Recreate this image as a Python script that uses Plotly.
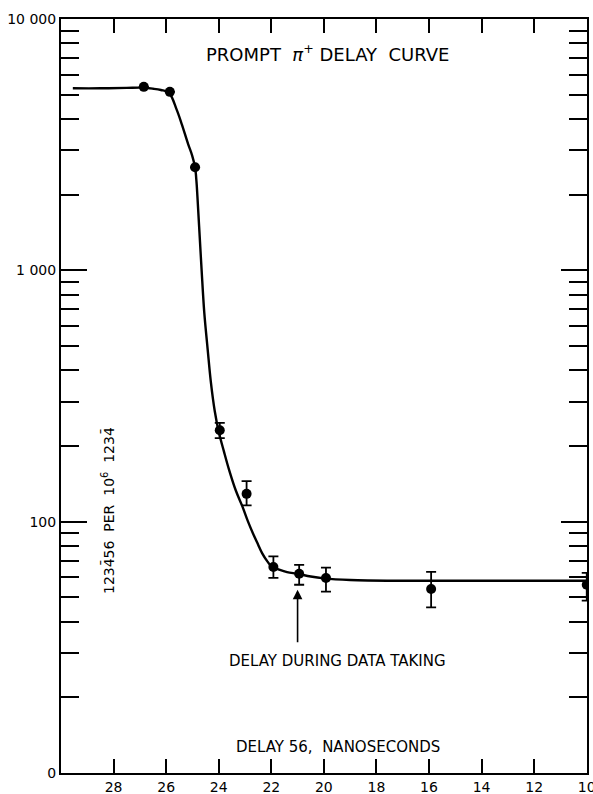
import math
import plotly.graph_objects as go

# ---- data ----
delay_ns = [26.85, 25.86, 24.90, 23.96, 22.94, 21.92, 20.94, 19.92, 15.92, 10.0]
counts = [5370, 5130, 2570, 231, 129, 66, 62.1, 59.7, 54.0, 56.1]
err_upper = [None, None, None, 247, 145, 72.8, 67.3, 65.6, 63.1, 62.5]
err_lower = [None, None, None, 215, 116, 59.7, 56.1, 52.7, 45.6, 48.5]

curve_x = [29.55, 28.5, 27.5, 26.9, 26.5, 26.2, 25.9, 25.6, 25.4, 25.17, 25.01,
           24.9, 24.846, 24.81, 24.743, 24.65, 24.55, 24.42, 24.3, 24.15, 24.0,
           23.8, 23.6, 23.35, 23.1, 22.9, 22.7, 22.5, 22.35, 22.15, 22.0, 21.7,
           21.4, 21.0, 20.5, 20.0, 19.0, 17.0, 14.0, 10.0]
curve_y = [5300, 5300, 5320, 5330, 5280, 5220, 5100, 4360, 3800, 3193, 2861,
           2570, 2254, 1965, 1479, 1000, 680, 484, 360, 275, 228,
           190, 160, 133, 115, 101, 90, 81, 75, 69.5, 66.5, 64.5,
           63, 62, 60.5, 59.5, 58.6, 58.2, 58.2, 58.2]

x_ticks = [28, 26, 24, 22, 20, 18, 16, 14, 12, 10]
y_ticks = [10, 100, 1000, 10000]
y_ticktext = ["0", "100", "1 000", "10 000"]

err_plus = [0 if u is None else u - c for u, c in zip(err_upper, counts)]
err_minus = [0 if l is None else c - l for l, c in zip(err_lower, counts)]

FONT = "DejaVu Sans"
minor_vals = [m * 10 ** d for d in range(1, 4) for m in range(2, 10)]

fig = go.Figure()
fig.add_trace(go.Scatter(
    x=curve_x, y=curve_y, mode="lines",
    line=dict(color="black", width=2.4, shape="spline", smoothing=1.0),
    hoverinfo="skip", showlegend=False))
fig.add_trace(go.Scatter(
    x=delay_ns, y=counts, mode="markers",
    marker=dict(color="black", size=10),
    error_y=dict(type="data", symmetric=False, array=err_plus, arrayminus=err_minus,
                 color="black", thickness=1.8, width=5),
    showlegend=False))

fig.update_layout(
    width=593, height=794,
    margin=dict(l=61, r=6, t=19, b=21, autoexpand=False),
    paper_bgcolor="white", plot_bgcolor="white",
    font=dict(family=FONT, color="black", size=14),
)
fig.update_xaxes(
    range=[30, 9.99], showgrid=False, zeroline=False, automargin=False,
    showline=True, linecolor="black", linewidth=2, mirror="ticks",
    tickmode="array", tickvals=x_ticks, ticks="inside", ticklen=14, tickwidth=2, tickcolor="black",
    tickfont=dict(family=FONT, size=14), ticklabeloverflow="allow",
)
fig.update_yaxes(
    type="log", range=[1, 4], showgrid=False, zeroline=False, automargin=False,
    showline=True, linecolor="black", linewidth=2, mirror="ticks",
    tickmode="array", tickvals=y_ticks, ticktext=y_ticktext,
    ticks="inside", ticklen=26, tickwidth=2, tickcolor="black",
    tickfont=dict(family=FONT, size=14), ticklabeloverflow="allow",
    minor=dict(tickmode="array", tickvals=minor_vals, ticks="inside", ticklen=18,
               tickwidth=2, tickcolor="black", showgrid=False),
)

fig.add_annotation(xref="paper", yref="paper", x=0.506, y=0.955,
                   xanchor="center", yanchor="middle",
                   text="PROMPT  <i>π</i><sup>+</sup> DELAY  CURVE", showarrow=False,
                   font=dict(family=FONT, size=18, color="black"))
fig.add_annotation(xref="paper", yref="paper", x=0.0894, y=0.3475, textangle=-90,
                   xanchor="center", yanchor="middle",
                   text="1234\u030456  PER  10<sup>6</sup>  1234\u0304", showarrow=False,
                   font=dict(family=FONT, size=14, color="black"))
fig.add_annotation(xref="paper", yref="paper", x=0.525, y=0.1485,
                   xanchor="center", yanchor="middle",
                   text="DELAY DURING DATA TAKING", showarrow=False,
                   font=dict(family=FONT, size=15, color="black"))
fig.add_annotation(xref="paper", yref="paper", x=0.527, y=0.0345,
                   xanchor="center", yanchor="middle",
                   text="DELAY 56,  NANOSECONDS", showarrow=False,
                   font=dict(family=FONT, size=15, color="black"))
fig.add_annotation(x=21, y=math.log10(53.6), text=" ", showarrow=True,
                   ax=0, ay=55, arrowhead=2, arrowsize=1.2, arrowwidth=1.6,
                   arrowcolor="black", font=dict(size=2))

fig.write_html("out.html")
